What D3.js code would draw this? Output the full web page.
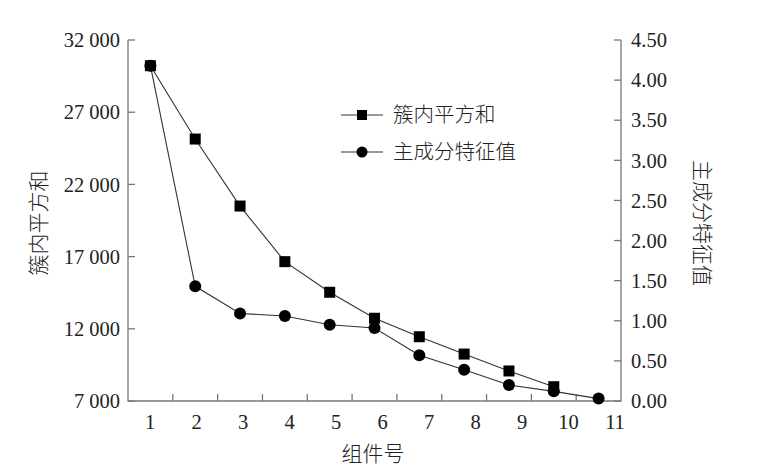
<!DOCTYPE html>
<html>
<head>
<meta charset="utf-8">
<script src="https://cdn.jsdelivr.net/npm/d3@7"></script>
<style>
  body { margin: 0; background: #fff; }
  .num { font-family: "Liberation Serif", "DejaVu Serif", serif; font-size: 20.5px; fill: #222; }
  .cjk { font-family: "Noto Sans CJK SC", sans-serif; font-weight: 300; font-size: 21px; fill: #222; }
  .leg { font-size: 20.5px; }
</style>
</head>
<body>
<svg></svg>
<script>
// chart data
var components = [1, 2, 3, 4, 5, 6, 7, 8, 9, 10, 11];
var sse = [30220, 25140, 20500, 16650, 14530, 12730, 11450, 10250, 9080, 7990];     // 簇内平方和 (k = 1..10)
var eigen = [4.18, 1.43, 1.09, 1.06, 0.95, 0.91, 0.57, 0.39, 0.20, 0.12, 0.03];     // 主成分特征值
var leftTicks = [7000, 12000, 17000, 22000, 27000, 32000];
var rightTicks = [0, 0.5, 1, 1.5, 2, 2.5, 3, 3.5, 4, 4.5];
var seriesNames = ["簇内平方和", "主成分特征值"];

var width = 766;
var height = 467;
var plotLeft = 128, plotRight = 621, plotTop = 40, plotBottom = 401;

var svg = d3.select("svg")
    .attr("width", width)
    .attr("height", height);

// x: one band per component, points sit in band centres, ticks on band edges
var x = d3.scaleBand()
    .domain(components)
    .range([plotLeft, plotRight])
    .paddingInner(0).paddingOuter(0);
var cx = function(d) { return x(d) + x.bandwidth() / 2; };

// tick labels are spaced a little wider than the bands in the original
var xLabel = d3.scaleLinear()
    .domain([1, 11])
    .range([150, 615]);

var yL = d3.scaleLinear().domain([7000, 32000]).range([plotBottom, plotTop]);
var yR = d3.scaleLinear().domain([0, 4.5]).range([plotBottom, plotTop]);

var axisColor = "#777";

// frame lines (left, bottom, right)
svg.append("path")
    .attr("d", "M" + plotLeft + "," + plotTop + "V" + plotBottom + "H" + plotRight + "V" + plotTop)
    .attr("fill", "none")
    .attr("stroke", axisColor)
    .attr("stroke-width", 1.3);

// left ticks + labels
svg.selectAll(".lt").data(leftTicks).enter().append("line")
    .attr("x1", plotLeft).attr("x2", plotLeft + 7)
    .attr("y1", function(d) { return yL(d); })
    .attr("y2", function(d) { return yL(d); })
    .attr("stroke", axisColor).attr("stroke-width", 1.3);

svg.selectAll(".ll").data(leftTicks).enter().append("text")
    .attr("class", "num")
    .attr("x", plotLeft - 8)
    .attr("y", function(d) { return yL(d); })
    .attr("dy", "0.35em")
    .attr("text-anchor", "end")
    .text(function(d) { return d3.format(",")(d).replace(",", " "); });

// right ticks + labels
svg.selectAll(".rt").data(rightTicks).enter().append("line")
    .attr("x1", plotRight - 7).attr("x2", plotRight)
    .attr("y1", function(d) { return yR(d); })
    .attr("y2", function(d) { return yR(d); })
    .attr("stroke", axisColor).attr("stroke-width", 1.3);

svg.selectAll(".rl").data(rightTicks).enter().append("text")
    .attr("class", "num")
    .attr("x", plotRight + 10)
    .attr("y", function(d) { return yR(d); })
    .attr("dy", "0.35em")
    .attr("text-anchor", "start")
    .text(function(d) { return d3.format(".2f")(d); });

// bottom ticks on band boundaries
svg.selectAll(".bt").data(components.slice(1)).enter().append("line")
    .attr("x1", function(d) { return x(d); })
    .attr("x2", function(d) { return x(d); })
    .attr("y1", plotBottom).attr("y2", plotBottom - 7)
    .attr("stroke", axisColor).attr("stroke-width", 1.3);

svg.selectAll(".bl").data(components).enter().append("text")
    .attr("class", "num")
    .attr("x", function(d) { return xLabel(d); })
    .attr("y", 429)
    .attr("text-anchor", "middle")
    .text(function(d) { return d; });

// axis titles
svg.append("text")
    .attr("class", "cjk")
    .attr("transform", "translate(46,223) rotate(-90)")
    .attr("text-anchor", "middle")
    .text(seriesNames[0]);

svg.append("text")
    .attr("class", "cjk")
    .attr("transform", "translate(695,223) rotate(90)")
    .attr("text-anchor", "middle")
    .text(seriesNames[1]);

svg.append("text")
    .attr("class", "cjk")
    .attr("x", 373)
    .attr("y", 461)
    .attr("text-anchor", "middle")
    .text("组件号");

// series lines
var lineL = d3.line()
    .x(function(d, i) { return cx(components[i]); })
    .y(function(d) { return yL(d); });

var lineR = d3.line()
    .x(function(d, i) { return cx(components[i]); })
    .y(function(d) { return yR(d); });

svg.append("path")
    .attr("d", lineL(sse))
    .attr("fill", "none").attr("stroke", "#333").attr("stroke-width", 1.1);

svg.append("path")
    .attr("d", lineR(eigen))
    .attr("fill", "none").attr("stroke", "#333").attr("stroke-width", 1.1);

// markers
var sq = 11;
svg.selectAll(".sq").data(sse).enter().append("rect")
    .attr("x", function(d, i) { return cx(components[i]) - sq / 2; })
    .attr("y", function(d) { return yL(d) - sq / 2; })
    .attr("width", sq).attr("height", sq)
    .attr("fill", "#000");

svg.selectAll(".ci").data(eigen).enter().append("circle")
    .attr("cx", function(d, i) { return cx(components[i]); })
    .attr("cy", function(d) { return yR(d); })
    .attr("r", 6)
    .attr("fill", "#000");

// legend
var legend = svg.append("g").attr("transform", "translate(341,115)");
seriesNames.forEach(function(name, i) {
    var row = legend.append("g").attr("transform", "translate(0," + (i * 37) + ")");
    row.append("line")
        .attr("x1", 0).attr("x2", 42)
        .attr("stroke", "#333").attr("stroke-width", 1.1);
    if (i === 0) {
        row.append("rect").attr("x", 21 - 5).attr("y", -5).attr("width", 10).attr("height", 10).attr("fill", "#000");
    } else {
        row.append("circle").attr("cx", 21).attr("r", 5.5).attr("fill", "#000");
    }
    row.append("text")
        .attr("class", "cjk leg")
        .attr("x", 52)
        .attr("dy", "0.35em")
        .text(name);
});
</script>
</body>
</html>
